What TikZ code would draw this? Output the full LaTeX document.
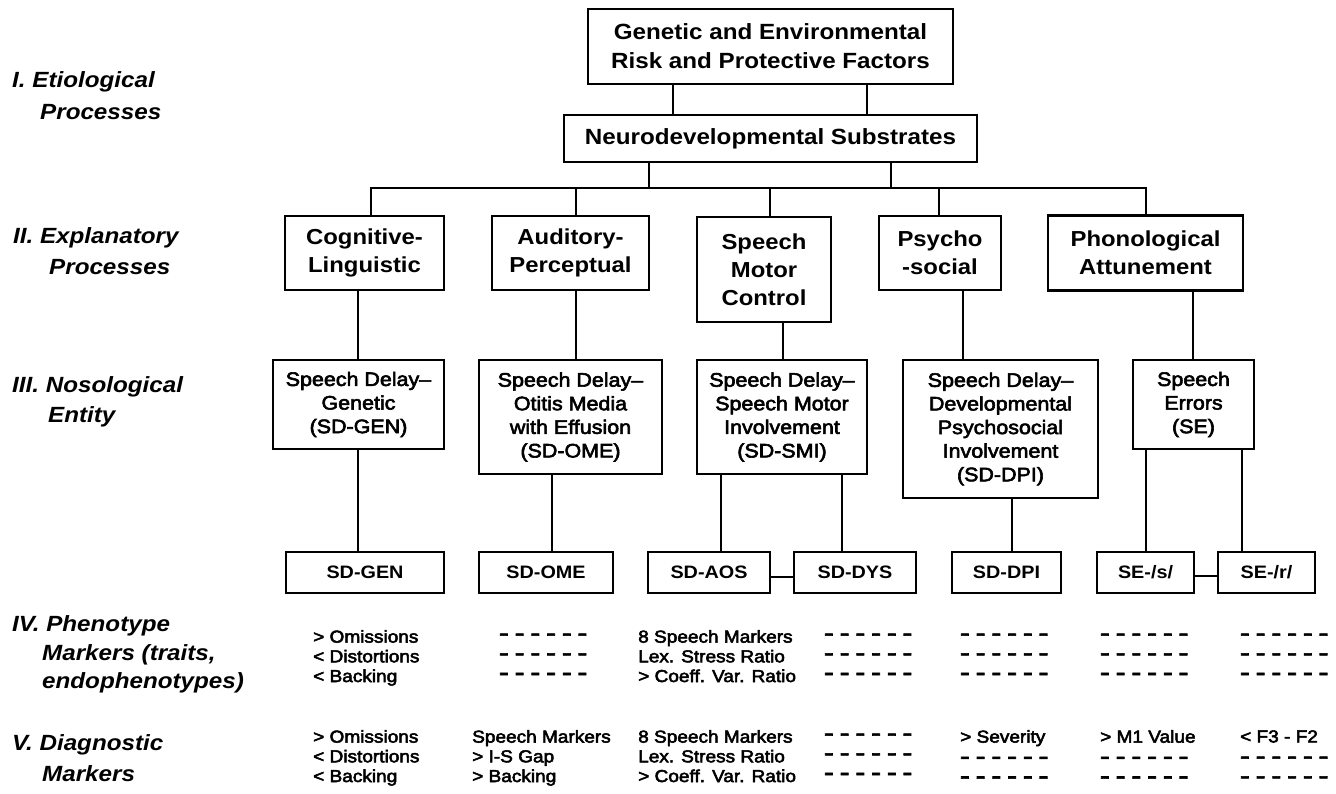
\documentclass[tikz,border=0pt]{standalone}
\usepackage{fontspec}
\usepackage{graphicx}
\setmainfont{Liberation Sans}[FakeStretch=1.1]
\newfontfamily\medfont{Liberation Sans}[FakeStretch=1.1, FakeBold=3]
\newcommand\onedash{\scalebox{1.5}[1]{\textbf{-}}}
\newcommand\mydashes{\onedash\hspace{6.2pt}\onedash\hspace{6.2pt}\onedash\hspace{6.2pt}\onedash\hspace{6.2pt}\onedash\hspace{6.2pt}\onedash}
\tikzset{
  box/.style={draw, line width=2.8pt, inner sep=0pt, align=center, anchor=center},
  lvone/.style={font=\fontsize{22}{29}\selectfont\bfseries},
  lvtwo/.style={font=\fontsize{21.7}{28}\selectfont\bfseries},
  lvthree/.style={font=\fontsize{19.5}{23.6}\selectfont\medfont},
  lvbot/.style={font=\fontsize{18}{22}\selectfont\bfseries},
  lbl/.style={anchor=west, inner sep=0pt, font=\fontsize{22}{29}\selectfont\bfseries\itshape},
  mk/.style={anchor=west, inner sep=0pt, align=left, font=\fontsize{17.3}{19.7}\selectfont\medfont,
    execute at begin node=\strut, execute at end node=\strut},
  conn/.style={line width=2.8pt},
}
\begin{document}
\begin{tikzpicture}[x=1pt,y=-1pt]
\useasboundingbox[fill=white] (0,0) rectangle (1336,793);

% Level I
\node[box, lvone, minimum width=365pt, minimum height=75pt] (top) at (770.5,46.5) {Genetic and Environmental\\Risk and Protective Factors};
\node[box, lvone, minimum width=413pt, minimum height=47pt] (neuro) at (770.5,138.5) {Neurodevelopmental Substrates};

% Level II
\node[box, lvtwo, minimum width=159pt, minimum height=74pt] (cog) at (364.5,253) {Cognitive-\\Linguistic};
\node[box, lvtwo, minimum width=157pt, minimum height=74pt] (aud) at (570.5,253) {Auditory-\\Perceptual};
\node[box, lvtwo, minimum width=134pt, minimum height=105pt] (smc) at (764,269.5) {Speech\\Motor\\Control};
\node[box, lvtwo, minimum width=122pt, minimum height=74pt] (psy) at (940,253) {Psycho\\-social};
\node[box, lvtwo, minimum width=195pt, minimum height=75pt] (pho) at (1145.5,253) {Phonological\\Attunement};

% Level III
\node[box, lvthree, minimum width=171pt, minimum height=89pt] (gen) at (358.5,404.5) {Speech Delay–\\Genetic\\(SD-GEN)};
\node[box, lvthree, minimum width=183pt, minimum height=114pt] (ome) at (570.5,417) {Speech Delay–\\Otitis Media\\with Effusion\\(SD-OME)};
\node[box, lvthree, minimum width=170pt, minimum height=114pt] (smi) at (782,417) {Speech Delay–\\Speech Motor\\Involvement\\(SD-SMI)};
\node[box, lvthree, minimum width=195pt, minimum height=138pt] (dpi) at (1000.5,429) {Speech Delay–\\Developmental\\Psychosocial\\Involvement\\(SD-DPI)};
\node[box, lvthree, minimum width=121pt, minimum height=89pt] (se) at (1193.5,404.5) {Speech\\Errors\\(SE)};

% Bottom boxes
\node[box, lvbot, minimum width=158pt, minimum height=41pt] (bgen) at (365,572.5) {SD-GEN};
\node[box, lvbot, minimum width=134pt, minimum height=41pt] (bome) at (546,572.5) {SD-OME};
\node[box, lvbot, minimum width=122pt, minimum height=41pt] (baos) at (709,572.5) {SD-AOS};
\node[box, lvbot, minimum width=122pt, minimum height=41pt] (bdys) at (855,572.5) {SD-DYS};
\node[box, lvbot, minimum width=109pt, minimum height=41pt] (bdpi) at (1006.5,572.5) {SD-DPI};
\node[box, lvbot, minimum width=97pt, minimum height=41pt] (bs) at (1145.5,572.5) {SE-/s/};
\node[box, lvbot, minimum width=97pt, minimum height=41pt] (br) at (1266.5,572.5) {SE-/r/};

% Connectors level I
\coordinate (t1) at (673,100);
\coordinate (t2) at (867,100);
\draw[conn] (top.south -| t1) -- (neuro.north -| t1);
\draw[conn] (top.south -| t2) -- (neuro.north -| t2);

% Bus
\coordinate (busL) at (371,188);
\coordinate (busR) at (1146,188);
\coordinate (jN1) at (649,188);
\coordinate (jN2) at (891,188);
\coordinate (jA) at (576,188);
\coordinate (jS) at (770,188);
\coordinate (jP) at (939,188);
\draw[conn] (cog.north -| busL) -- (busL) -- (busR) -- (pho.north -| busR);
\draw[conn] (neuro.south -| jN1) -- (jN1);
\draw[conn] (neuro.south -| jN2) -- (jN2);
\draw[conn] (jA) -- (aud.north -| jA);
\draw[conn] (jS) -- (smc.north -| jS);
\draw[conn] (jP) -- (psy.north -| jP);

% Level II -> III
\draw[conn] ([xshift=-6.5pt]cog.south) -- ([xshift=-0.5pt]gen.north);
\draw[conn] ([xshift=5.5pt]aud.south) -- ([xshift=5.5pt]ome.north);
\draw[conn] ([xshift=19pt]smc.south) -- ([xshift=1pt]smi.north);
\draw[conn] ([xshift=23pt]psy.south) -- ([xshift=-37.5pt]dpi.north);
\draw[conn] ([xshift=47.5pt]pho.south) -- ([xshift=-0.5pt]se.north);

% Level III -> bottom
\draw[conn] ([xshift=-0.5pt]gen.south) -- ([xshift=-7pt]bgen.north);
\draw[conn] ([xshift=-18.5pt]ome.south) -- ([xshift=6pt]bome.north);
\draw[conn] ([xshift=-61pt]smi.south) -- ([xshift=12pt]baos.north);
\draw[conn] ([xshift=60pt]smi.south) -- ([xshift=-13pt]bdys.north);
\draw[conn] ([xshift=11.5pt]dpi.south) -- ([xshift=5.5pt]bdpi.north);
\draw[conn] ([xshift=-47.5pt]se.south) -- ([xshift=0.5pt]bs.north);
\draw[conn] ([xshift=48.5pt]se.south) -- ([xshift=-24.5pt]br.north);
\draw[conn] ([yshift=-4.5pt]baos.east) -- ([yshift=-4.5pt]bdys.west);
\draw[conn] ([yshift=-3.5pt]bs.east) -- ([yshift=-3.5pt]br.west);

% Left labels
\node[lbl] (l1a) at (12,82) {I. Etiological};
\node[lbl] (l1b) at (40,112) {Processes};
\node[lbl] (l2a) at (13,238) {II. Explanatory};
\node[lbl] (l2b) at (49,267) {Processes};
\node[lbl] (l3a) at (12,387) {III. Nosological};
\node[lbl] (l3b) at (48,417) {Entity};
\node[lbl] (l4a) at (12,626) {IV. Phenotype};
\node[lbl] (l4b) at (42,655) {Markers (traits,};
\node[lbl] (l4c) at (42,683) {endophenotypes)};
\node[lbl] (l5a) at (12,745) {V. Diagnostic};
\node[lbl] (l5b) at (42,774) {Markers};

% Row IV
\node[mk] (p1) at (313,659) {> Omissions\\< Distortions\\< Backing};
\node[mk] (p2) at (499,659) {\mydashes\\\mydashes\\\mydashes};
\node[mk] (p3) at (638,659) {8 Speech Markers\\Lex. Stress Ratio\\> Coeff. Var. Ratio};
\node[mk] (p4) at (824,659) {\mydashes\\\mydashes\\\mydashes};
\node[mk] (p5) at (960,659) {\mydashes\\\mydashes\\\mydashes};
\node[mk] (p6) at (1100,659) {\mydashes\\\mydashes\\\mydashes};
\node[mk] (p7) at (1240,659) {\mydashes\\\mydashes\\\mydashes};

% Row V
\node[mk] (d1) at (313,759) {> Omissions\\< Distortions\\< Backing};
\node[mk] (d2) at (472,759) {Speech Markers\\> I-S Gap\\> Backing};
\node[mk] (d3) at (638,759) {8 Speech Markers\\Lex. Stress Ratio\\> Coeff. Var. Ratio};
\node[mk] (d4) at (824,759) {\mydashes\\\mydashes\\\mydashes};
\node[mk] (d5) at (960,759) {> Severity\\\mydashes\\\mydashes};
\node[mk] (d6) at (1100,759) {> M1 Value\\\mydashes\\\mydashes};
\node[mk] (d7) at (1240,759) {< F3 - F2\\\mydashes\\\mydashes};
\end{tikzpicture}
\end{document}
